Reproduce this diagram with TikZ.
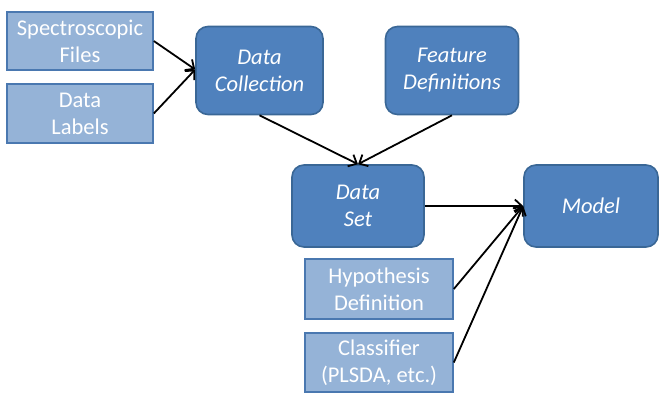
\documentclass[tikz,border=0pt]{standalone}
\usepackage{fontspec}
\setmainfont{Carlito}
\usetikzlibrary{arrows.meta}
\definecolor{darkfill}{HTML}{4F81BD}
\definecolor{darkline}{HTML}{3A6796}
\definecolor{lightfill}{HTML}{95B3D7}
\definecolor{lightline}{HTML}{4A78B0}
\tikzset{
  darkbox/.style={draw=darkline, line width=1.6pt, fill=darkfill, rounded corners=12pt,
    text=white, font=\fontsize{22.5}{27}\selectfont\itshape, align=center, inner sep=0pt},
  lightbox/.style={draw=lightline, line width=1.6pt, fill=lightfill,
    text=white, font=\fontsize{22.5}{27}\selectfont, align=center, inner sep=0pt},
  conn/.style={draw=black, line width=1.8pt, -{Straight Barb[length=7pt,width=13pt,line width=1.8pt]}}
}
\begin{document}
\begin{tikzpicture}[x=1pt,y=-1pt]
\useasboundingbox (0,0) rectangle (666,402);
% light boxes
\node[lightbox, minimum width=146pt, minimum height=58pt] (spec) at (80,41) {Spectroscopic\\Files};
\node[lightbox, minimum width=146pt, minimum height=59pt] (lab) at (80,113.5) {Data\\Labels};
\node[lightbox, minimum width=148pt, minimum height=60pt] (hyp) at (379,289) {Hypothesis\\Definition};
\node[lightbox, minimum width=148pt, minimum height=59pt] (cls) at (379,362.5) {Classifier\\(PLSDA, etc.)};
% dark boxes
\node[darkbox, minimum width=127pt, minimum height=88pt] (dc) at (259.5,70.5) {Data\\Collection};
\node[darkbox, minimum width=133pt, minimum height=88pt] (fd) at (452,70.5) {Feature\\Definitions};
\node[darkbox, minimum width=132pt, minimum height=82pt] (ds) at (358,206) {Data\\Set};
\node[darkbox, minimum width=134pt, minimum height=82pt] (mod) at (591,206) {Model};
% connectors
\coordinate (dcin) at ([yshift=1pt]dc.west);
\draw[conn] (spec.east) -- (dcin);
\draw[conn] (lab.east) -- (dcin);
\draw[conn] (dc.south) -- (ds.north);
\draw[conn] (fd.south) -- (ds.north);
\draw[conn] (ds.east) -- (mod.west);
\draw[conn] (hyp.east) -- (mod.west);
\draw[conn] (cls.east) -- (mod.west);
\end{tikzpicture}
\end{document}
